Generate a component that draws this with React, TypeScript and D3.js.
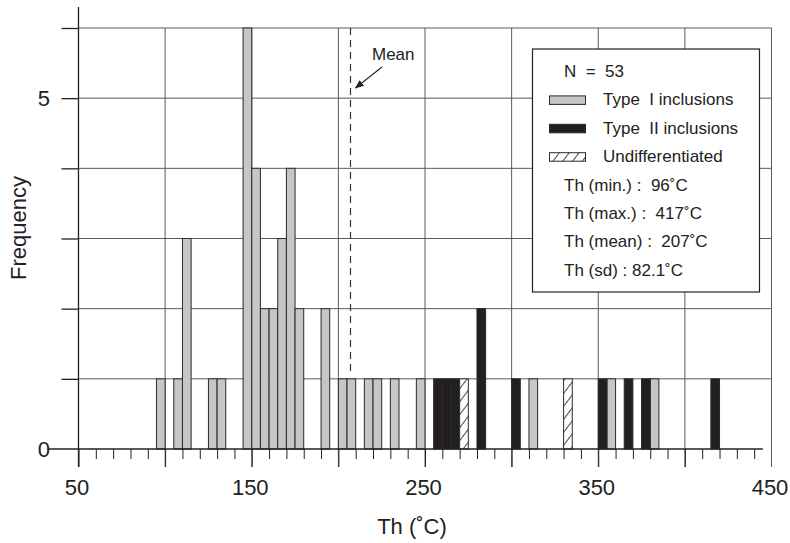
import React, { useEffect, useRef } from 'react'
import * as d3 from 'd3'

// homogenisation temperatures, 5 degree bins (bin start, count)
const typeIBins = [95, 105, 110, 125, 130, 145, 150, 155, 160, 165, 170, 175, 190, 200, 205, 215, 220, 230, 245, 310, 355, 380]
const typeICounts = [1, 1, 3, 1, 1, 6, 4, 2, 2, 3, 4, 2, 2, 1, 1, 1, 1, 1, 1, 1, 1, 1]
const typeIIBins = [255, 260, 265, 280, 300, 350, 365, 375, 415]
const typeIICounts = [1, 1, 1, 2, 1, 1, 1, 1, 1]
const undiffBins = [270, 330]
const undiffCounts = [1, 1]
const binWidth = 5
const meanTh = 207

const xLabels = [50, 150, 250, 350, 450]
const yLabels = [0, 5]
const legendTitle = 'N  =  53'
const legendItems = ['Type  I inclusions', 'Type  II inclusions', 'Undifferentiated']
const statLines = ['Th (min.) :  96˚C', 'Th (max.) :  417˚C', 'Th (mean) :  207˚C', 'Th (sd) : 82.1˚C']

const FONT = '"Liberation Sans", Arial, Helvetica, sans-serif'
const INK = '#222'

const App = () => {
  const svgRef = useRef<SVGSVGElement>(null)

  useEffect(() => {
    const svg = d3.select(svgRef.current)
    svg.selectAll('*').remove()

    const x = d3.scaleLinear().domain([50, 450]).range([78.5, 771.5])
    const y = d3.scaleLinear().domain([0, 6]).range([449, 28])

    const defs = svg.append('defs')
    const hatch = defs.append('pattern')
      .attr('id', 'hatch')
      .attr('patternUnits', 'userSpaceOnUse')
      .attr('width', 7.8)
      .attr('height', 10)
      .attr('patternTransform', 'rotate(37)')
    hatch.append('rect').attr('width', 7.8).attr('height', 10).attr('fill', '#fff')
    hatch.append('line')
      .attr('x1', 0.5).attr('y1', 0).attr('x2', 0.5).attr('y2', 10)
      .attr('stroke', '#333').attr('stroke-width', 0.9)

    defs.append('marker')
      .attr('id', 'arrow')
      .attr('viewBox', '0 0 10 10')
      .attr('refX', 9).attr('refY', 5)
      .attr('markerWidth', 9).attr('markerHeight', 9)
      .attr('markerUnits', 'userSpaceOnUse')
      .attr('orient', 'auto')
      .append('path').attr('d', 'M0,1 L10,5 L0,9 Z').attr('fill', INK)

    // grid
    const grid = svg.append('g')
    grid.selectAll('.hgrid')
      .data(d3.range(1, 7))
      .join('line')
      .attr('class', 'hgrid')
      .attr('x1', x(50)).attr('x2', x(450))
      .attr('y1', d => y(d)).attr('y2', d => y(d))
      .attr('stroke', '#5a5a5a').attr('stroke-width', 1)
    grid.selectAll('.vgrid')
      .data(d3.range(100, 451, 50))
      .join('line')
      .attr('class', 'vgrid')
      .attr('x1', d => x(d)).attr('x2', d => x(d))
      .attr('y1', y(6)).attr('y2', 467)
      .attr('stroke', '#5a5a5a').attr('stroke-width', 1)

    // mean line
    svg.append('line')
      .attr('x1', x(meanTh)).attr('x2', x(meanTh))
      .attr('y1', y(6)).attr('y2', y(1) - 6)
      .attr('stroke', '#333').attr('stroke-width', 1.2)
      .attr('stroke-dasharray', '7,5')

    // bars
    const series = [
      { bins: typeIBins, counts: typeICounts, fill: '#c6c6c6' },
      { bins: typeIIBins, counts: typeIICounts, fill: '#231f20' },
      { bins: undiffBins, counts: undiffCounts, fill: 'url(#hatch)' },
    ]
    series.forEach(s => {
      svg.append('g')
        .selectAll('rect')
        .data(s.bins.map((b, i) => ({ b, c: s.counts[i] })))
        .join('rect')
        .attr('x', d => x(d.b))
        .attr('y', d => y(d.c))
        .attr('width', d => x(d.b + binWidth) - x(d.b))
        .attr('height', d => y(0) - y(d.c))
        .attr('fill', s.fill)
        .attr('stroke', '#2a2a2a')
        .attr('stroke-width', 1)
    })

    // x axis ticks
    const xTicks = svg.append('g')
      .attr('transform', `translate(0,${y(0)})`)
      .call(d3.axisBottom(x).tickValues(d3.range(50, 445, 10)).tickSize(10).tickFormat(() => ''))
    xTicks.select('.domain').remove()
    xTicks.selectAll('.tick line')
      .attr('stroke', INK)
      .attr('y2', (d: any) => (d % 50 === 0 ? 18 : 10))

    const xLab = svg.append('g')
      .attr('transform', `translate(-2,${y(0)})`)
      .call(d3.axisBottom(x).tickValues(xLabels).tickSize(0).tickPadding(30).tickFormat(d3.format('d')))
    xLab.select('.domain').remove()
    xLab.selectAll('text').attr('font-family', FONT).attr('font-size', 22).attr('fill', INK)

    // baseline
    svg.append('line')
      .attr('x1', 48).attr('x2', x(445))
      .attr('y1', y(0)).attr('y2', y(0))
      .attr('stroke', INK).attr('stroke-width', 1.3)

    // y axis
    const yAx = svg.append('g')
      .attr('transform', `translate(${x(50)},0)`)
      .call(d3.axisLeft(y).tickValues(d3.range(1, 7)).tickSize(17).tickFormat(() => ''))
    yAx.select('.domain').remove()
    yAx.selectAll('.tick line').attr('stroke', INK).attr('stroke-width', 1.3)

    svg.append('g')
      .selectAll('text')
      .data(yLabels)
      .join('text')
      .attr('x', 50)
      .attr('y', d => y(d))
      .attr('dy', '0.36em')
      .attr('text-anchor', 'end')
      .attr('font-family', FONT).attr('font-size', 22).attr('fill', INK)
      .text(d => d)

    svg.append('line')
      .attr('x1', x(50)).attr('x2', x(50))
      .attr('y1', 7).attr('y2', 467)
      .attr('stroke', INK).attr('stroke-width', 1.3)

    // axis titles
    svg.append('text')
      .attr('x', 412).attr('y', 534)
      .attr('text-anchor', 'middle')
      .attr('font-family', FONT).attr('font-size', 22).attr('fill', INK)
      .text('Th (˚C)')
    svg.append('text')
      .attr('transform', 'translate(26,228) rotate(-90)')
      .attr('text-anchor', 'middle')
      .attr('font-family', FONT).attr('font-size', 22).attr('fill', INK)
      .text('Frequency')

    // mean annotation
    svg.append('text')
      .attr('x', 372).attr('y', 60)
      .attr('font-family', FONT).attr('font-size', 17).attr('fill', INK)
      .text('Mean')
    svg.append('line')
      .attr('x1', 382).attr('y1', 67)
      .attr('x2', x(meanTh) + 5).attr('y2', 88)
      .attr('stroke', INK).attr('stroke-width', 1.1)
      .attr('marker-end', 'url(#arrow)')

    // legend
    const lg = svg.append('g')
    lg.append('rect')
      .attr('x', 532.5).attr('y', 49).attr('width', 227).attr('height', 243)
      .attr('fill', '#fff').attr('stroke', INK).attr('stroke-width', 1.2)
    const lineH = 28.4
    lg.append('text')
      .attr('x', 564).attr('y', 77)
      .attr('font-family', FONT).attr('font-size', 17).attr('fill', INK)
      .style('white-space', 'pre')
      .text(legendTitle)
    const fills = series.map(s => s.fill)
    legendItems.forEach((t, i) => {
      const by = 77 + lineH * (i + 1)
      lg.append('rect')
        .attr('x', 549.5).attr('y', by - 9.5).attr('width', 36).attr('height', 8.5)
        .attr('fill', fills[i]).attr('stroke', '#2a2a2a').attr('stroke-width', 1)
      lg.append('text')
        .attr('x', 603).attr('y', by)
        .attr('font-family', FONT).attr('font-size', 17).attr('fill', INK)
        .style('white-space', 'pre')
        .text(t)
    })
    statLines.forEach((t, i) => {
      lg.append('text')
        .attr('x', 564).attr('y', 77 + lineH * (i + 4))
        .attr('font-family', FONT).attr('font-size', 17).attr('fill', INK)
        .style('white-space', 'pre')
        .text(t)
    })
  }, [])

  return (
    <svg
      ref={svgRef}
      width={790}
      height={543}
      style={{ position: 'absolute', left: 0, top: 0, background: '#fff' }}
    />
  )
}

export default App
